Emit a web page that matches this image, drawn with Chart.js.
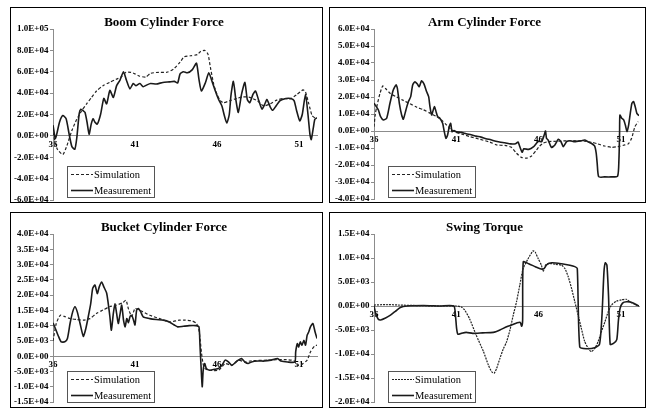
<!DOCTYPE html>
<html>
<head>
<meta charset="utf-8">
<script src="https://cdn.jsdelivr.net/npm/chart.js@4.4.0/dist/chart.umd.min.js"></script>
<style>
  body { margin: 0; background: #fff; width: 647px; height: 410px; position: relative; overflow: hidden; }
  .panel { position: absolute; border: 1px solid #000; background: #fff; }
  .panel canvas { display: block; }
</style>
</head>
<body>
<div class="panel" style="left:10px;top:7px;width:311px;height:194px"><canvas id="boomChart"></canvas></div>
<div class="panel" style="left:329px;top:7px;width:315px;height:194px"><canvas id="armChart"></canvas></div>
<div class="panel" style="left:10px;top:212px;width:311px;height:194px"><canvas id="bucketChart"></canvas></div>
<div class="panel" style="left:329px;top:212px;width:315px;height:194px"><canvas id="swingChart"></canvas></div>
<script>
// values are in units of 1E4 (N or N.m), time in s
const UNIT = 1e4;
const xTicks = [36, 41, 46, 51];
const seriesNames = ["Simulation", "Measurement"];

// [min, max, step] of each y axis, same units
const boomAxis = [-6, 10, 2];
const armAxis = [-4, 6, 1];
const bucketAxis = [-1.5, 4, 0.5];
const swingAxis = [-2, 1.5, 0.5];

const boomSim = [
    [36.0, 0.3], [36.25, -1.2], [36.6, -1.75], [36.85, -0.9], [37.15, 0.5], [37.45, 1.55], [37.75, 2.35],
    [38.05, 3.0], [38.35, 3.6], [38.65, 4.2], [39.05, 4.7], [39.45, 5.0], [39.85, 5.3], [40.15, 5.5],
    [40.45, 5.95], [40.75, 5.95], [41.0, 5.8], [41.25, 5.6], [41.65, 5.5], [41.95, 5.85], [42.45, 5.95],
    [42.95, 5.95], [43.35, 6.25], [43.75, 6.9], [44.0, 7.4], [44.4, 7.5], [44.8, 7.6], [45.0, 7.9],
    [45.25, 8.0], [45.45, 7.65], [45.6, 6.4], [45.8, 4.85], [46.0, 3.9], [46.2, 3.3], [46.4, 3.1],
    [46.8, 3.3], [47.2, 3.5], [47.6, 3.65], [48.0, 3.6], [48.45, 3.3], [48.85, 2.8], [49.25, 3.0],
    [49.65, 3.35], [50.05, 3.5], [50.45, 3.45], [50.85, 3.85], [51.25, 4.3], [51.4, 4.1], [51.6, 3.0],
    [51.8, 1.9], [52.0, 1.65]
];
const boomMeas = [
    [36.0, 1.0], [36.15, -0.25], [36.4, 1.3], [36.6, 1.9], [36.8, 1.6], [36.98, 0.2], [37.15, -1.0],
    [37.33, -1.25], [37.45, -0.2], [37.6, 2.1], [37.7, 2.5], [37.85, 2.35], [37.95, 2.2], [38.08, 1.25],
    [38.2, 0.15], [38.33, 1.1], [38.45, 1.6], [38.55, 1.3], [38.7, 1.1], [38.9, 2.0], [39.1, 3.5],
    [39.27, 3.0], [39.47, 4.25], [39.68, 3.6], [39.88, 4.7], [40.08, 5.2], [40.3, 6.0], [40.48, 5.2],
    [40.69, 4.4], [40.89, 4.9], [41.05, 4.7], [41.3, 4.9], [41.5, 4.6], [41.7, 4.75], [41.95, 4.9],
    [42.3, 4.85], [42.7, 5.0], [43.1, 5.05], [43.4, 5.1], [43.6, 4.95], [43.75, 5.8], [43.95, 6.0],
    [44.2, 5.9], [44.5, 6.2], [44.75, 6.8], [44.9, 5.3], [45.05, 4.2], [45.3, 5.0], [45.5, 5.9],
    [45.7, 5.1], [45.9, 4.2], [46.1, 3.4], [46.3, 2.8], [46.45, 1.9], [46.6, 1.2], [46.75, 2.0],
    [46.85, 3.75], [47.0, 5.1], [47.15, 3.4], [47.3, 2.2], [47.5, 3.9], [47.7, 5.0], [47.85, 3.4],
    [48.0, 3.1], [48.2, 3.9], [48.35, 4.2], [48.55, 3.3], [48.75, 2.5], [48.95, 3.1], [49.05, 3.4],
    [49.25, 2.7], [49.4, 2.4], [49.6, 2.8], [49.85, 3.3], [50.2, 3.5], [50.5, 3.5], [50.7, 3.3],
    [50.85, 2.4], [51.05, 1.4], [51.2, 2.0], [51.4, 3.9], [51.55, 2.0], [51.67, 0.15], [51.75, -0.35],
    [51.88, 0.8], [51.97, 1.55], [52.1, 1.7]
];

const armSim = [
    [36.0, 0.25], [36.08, 1.0], [36.16, 1.4], [36.36, 2.2], [36.53, 2.65], [36.7, 2.5], [37.0, 2.2],
    [37.38, 2.0], [37.78, 1.8], [38.19, 1.6], [38.6, 1.4], [39.0, 1.25], [39.4, 1.05], [39.8, 0.85],
    [40.1, 0.65], [40.41, 0.35], [40.62, 0.15], [40.92, -0.05], [41.33, -0.18], [41.83, -0.33],
    [42.44, -0.49], [43.04, -0.65], [43.45, -0.82], [43.95, -0.85], [44.35, -0.96], [44.66, -1.31],
    [44.96, -1.55], [45.27, -1.6], [45.57, -1.47], [45.87, -1.12], [46.07, -0.88], [46.27, -0.72],
    [46.58, -0.63], [47.19, -0.6], [47.99, -0.57], [48.8, -0.6], [49.2, -0.66], [49.6, -0.76],
    [50.0, -0.88], [50.43, -0.96], [50.83, -0.92], [51.24, -0.82], [51.45, -0.76], [51.65, -0.43],
    [51.85, 0.25], [52.05, 0.55]
];
const armMeas = [
    [36.0, 1.63], [36.26, 1.25], [36.4, 0.84], [36.57, 0.65], [36.77, 0.75], [36.97, 1.63], [37.17, 2.41],
    [37.34, 2.71], [37.42, 2.51], [37.54, 1.63], [37.68, 0.94], [37.78, 0.69], [37.94, 1.24], [38.09, 1.73],
    [38.23, 2.02], [38.35, 2.71], [38.49, 2.9], [38.63, 2.76], [38.75, 2.61], [38.89, 2.96], [39.04, 2.76],
    [39.2, 2.31], [39.32, 2.02], [39.4, 1.43], [39.5, 0.94], [39.6, 1.24], [39.68, 1.43], [39.77, 1.14],
    [39.87, 0.84], [40.0, 0.75], [40.17, 0.45], [40.25, 0.06], [40.37, -0.43], [40.47, -0.24], [40.57, 0.25],
    [40.66, 0.45], [40.74, -0.04], [40.86, 0.02], [41.0, -0.05], [41.3, -0.08], [41.6, -0.16], [41.9, -0.22],
    [42.2, -0.3], [42.5, -0.36], [42.8, -0.45], [43.1, -0.52], [43.4, -0.6], [43.7, -0.66], [43.95, -0.69],
    [44.3, -0.76], [44.6, -0.75], [44.75, -0.65], [44.85, -0.9], [45.0, -1.25], [45.1, -1.05], [45.4, -1.08],
    [45.7, -0.92], [45.87, -0.72], [46.0, -0.6], [46.18, -0.63], [46.34, -0.24], [46.42, 0.0], [46.48, -0.43],
    [46.58, -0.53], [46.78, -0.96], [46.99, -0.82], [47.2, -0.49], [47.36, -0.63], [47.5, -0.92], [47.7, -0.63],
    [47.9, -0.57], [48.2, -0.63], [48.6, -0.57], [48.8, -0.53], [49.0, -0.63], [49.2, -0.72], [49.4, -0.88],
    [49.5, -1.3], [49.56, -1.9], [49.65, -2.69], [50.0, -2.7], [50.4, -2.7], [50.8, -2.65], [50.88, -1.7],
    [50.92, -0.14], [50.94, 0.94], [51.05, 0.75], [51.17, 0.65], [51.27, 0.35], [51.37, -0.04], [51.47, 0.35],
    [51.57, 1.04], [51.67, 1.63], [51.77, 1.73], [51.87, 1.43], [51.97, 1.04], [52.1, 0.9]
];

const bucketSim = [
    [36.0, 0.5], [36.2, 1.07], [36.45, 1.34], [36.75, 1.29], [37.05, 1.23], [37.45, 1.2], [37.85, 1.18],
    [38.25, 1.23], [38.65, 1.4], [39.05, 1.51], [39.45, 1.62], [39.85, 1.67], [40.25, 1.75], [40.45, 1.83],
    [40.6, 1.55], [40.8, 1.3], [41.0, 1.56], [41.3, 1.5], [41.9, 1.34], [42.5, 1.23], [43.1, 1.12],
    [43.7, 1.18], [44.05, 1.18], [44.5, 1.15], [44.75, 1.07], [44.9, 0.85], [44.98, 0.5], [45.06, 0.09],
    [45.15, -0.24], [45.25, -0.4], [45.5, -0.46], [46.1, -0.46], [46.5, -0.24], [46.9, -0.3], [47.3, -0.13],
    [47.7, -0.19], [48.1, -0.15], [49.1, -0.13], [50.1, -0.11], [50.7, -0.15], [50.9, -0.3], [51.2, -0.26],
    [51.5, -0.13], [51.7, 0.14], [51.95, 0.33], [52.1, 0.36]
];
const bucketMeas = [
    [36.0, 1.09], [36.15, 0.9], [36.35, 0.63], [36.5, 0.47], [36.72, 0.47], [36.88, 0.58], [37.04, 1.07],
    [37.2, 1.45], [37.34, 1.62], [37.48, 1.45], [37.65, 1.07], [37.85, 0.65], [38.0, 0.9], [38.15, 1.29],
    [38.3, 1.72], [38.42, 2.22], [38.56, 2.33], [38.7, 2.05], [38.82, 2.27], [38.97, 2.43], [39.1, 2.27],
    [39.27, 2.07], [39.37, 1.72], [39.47, 1.29], [39.56, 0.85], [39.68, 1.4], [39.78, 1.72], [39.88, 1.4],
    [39.98, 1.07], [40.08, 1.35], [40.19, 1.67], [40.3, 1.18], [40.4, 0.96], [40.5, 1.23], [40.6, 1.1],
    [40.7, 1.3], [40.8, 1.34], [40.9, 1.2], [41.0, 1.02], [41.1, 1.51], [41.2, 1.56], [41.35, 1.45],
    [41.5, 1.29], [41.9, 1.23], [42.3, 1.2], [42.73, 1.18], [43.1, 1.12], [43.4, 1.02], [43.6, 0.96],
    [43.95, 0.98], [44.3, 1.0], [44.7, 1.0], [44.9, 0.96], [44.96, 0.41], [45.02, -0.24], [45.1, -1.0],
    [45.16, -0.46], [45.25, -0.24], [45.35, -0.4], [45.55, -0.46], [45.85, -0.43], [46.1, -0.4], [46.3, -0.3],
    [46.5, -0.13], [46.7, -0.19], [46.9, -0.3], [47.1, -0.22], [47.3, -0.13], [47.5, -0.08], [47.7, -0.19],
    [47.9, -0.24], [48.1, -0.19], [48.5, -0.16], [48.9, -0.16], [49.3, -0.13], [49.7, -0.08], [49.9, -0.16],
    [50.3, -0.19], [50.75, -0.19], [50.8, 0.14], [50.9, 0.41], [50.98, 0.3], [51.08, 0.47], [51.18, 0.36],
    [51.3, 0.52], [51.4, 0.36], [51.5, 0.69], [51.6, 0.8], [51.7, 0.96], [51.85, 1.07], [51.98, 0.8], [52.1, 0.58]
];

const swingSim = [
    [36.0, 0.02], [36.8, 0.03], [37.5, 0.02], [38.5, 0.01], [40.0, 0.0], [41.0, 0.0], [41.3, -0.02],
    [41.5, -0.08], [41.8, -0.26], [42.2, -0.6], [42.65, -0.95], [42.95, -1.23], [43.15, -1.37], [43.3, -1.4],
    [43.45, -1.3], [43.65, -1.09], [43.85, -0.9], [44.05, -0.75], [44.26, -0.5], [44.46, -0.19], [44.66, 0.09],
    [44.86, 0.44], [45.06, 0.78], [45.37, 0.99], [45.67, 1.15], [45.8, 1.12], [45.97, 0.99], [46.17, 0.85],
    [46.28, 0.72], [46.42, 0.85], [46.6, 0.89], [46.99, 0.87], [47.39, 0.85], [47.6, 0.78], [47.8, 0.61],
    [48.0, 0.37], [48.2, 0.09], [48.4, -0.19], [48.6, -0.47], [48.8, -0.74], [49.01, -0.88], [49.2, -0.95],
    [49.42, -0.88], [49.62, -0.74], [49.82, -0.53], [50.03, -0.33], [50.23, -0.12], [50.43, 0.02],
    [50.73, 0.1], [51.04, 0.13], [51.34, 0.14], [51.5, 0.1], [51.7, 0.06], [51.9, 0.02], [52.1, 0.0]
];
const swingMeas = [
    [36.0, 0.0], [36.1, -0.15], [36.25, -0.27], [36.4, -0.29], [36.7, -0.25], [37.0, -0.19], [37.3, -0.11],
    [37.6, -0.03], [38.0, 0.0], [39.0, 0.01], [40.0, 0.0], [40.85, 0.0], [40.95, -0.2], [41.02, -0.47],
    [41.1, -0.59], [41.3, -0.57], [41.6, -0.55], [42.0, -0.57], [42.6, -0.56], [43.25, -0.55], [43.65, -0.5],
    [44.06, -0.43], [44.4, -0.39], [44.7, -0.35], [44.88, -0.34], [44.97, -0.42], [45.03, -0.3], [45.07, 0.92],
    [45.4, 0.88], [45.8, 0.82], [46.15, 0.77], [46.33, 0.78], [46.5, 0.86], [46.8, 0.9], [47.4, 0.88],
    [47.9, 0.85], [48.2, 0.82], [48.35, 0.78], [48.5, -0.85], [48.9, -0.89], [49.4, -0.87], [49.7, -0.8],
    [49.85, -0.2], [49.97, 0.7], [50.05, 0.9], [50.15, 0.85], [50.25, 0.2], [50.35, -0.8], [50.55, -0.78],
    [50.75, -0.7], [50.85, -0.3], [50.95, -0.05], [51.1, 0.06], [51.35, 0.09], [51.7, 0.07], [52.1, 0.0]
];

Chart.defaults.font.family = "'Liberation Serif', 'Times New Roman', serif";
Chart.defaults.color = "#000";

function sciLabel(v) {
    const val = v * UNIT;
    if (Math.abs(val) < 1e-6) return "0.0E+00";
    const e = Math.floor(Math.log10(Math.abs(val)) + 1e-9);
    const m = val / Math.pow(10, e);
    return m.toFixed(1) + "E+" + String(e).padStart(2, "0");
}

// legend drawn as a framed box inside the plot, like the original figure
const boxLegend = {
    id: "boxLegend",
    afterDraw(chart) {
        const ctx = chart.ctx;
        const a = chart.chartArea;
        const x = a.left + 14, y = 158, w = 87, h = 31;
        ctx.save();
        ctx.fillStyle = "#fff";
        ctx.fillRect(x, y, w, h);
        ctx.strokeStyle = "#555";
        ctx.lineWidth = 1;
        ctx.strokeRect(x + 0.5, y + 0.5, w, h);
        ctx.font = "10.5px 'Liberation Serif', serif";
        ctx.textBaseline = "middle";
        ctx.fillStyle = "#000";
        chart.data.datasets.forEach((ds, i) => {
            const ry = y + 8.5 + i * 16;
            ctx.strokeStyle = ds.borderColor;
            ctx.lineWidth = ds.borderWidth;
            ctx.setLineDash(ds.borderDash || []);
            ctx.beginPath();
            ctx.moveTo(x + 4, ry);
            ctx.lineTo(x + 26, ry);
            ctx.stroke();
            ctx.setLineDash([]);
            ctx.fillText(ds.label, x + 27, ry + 0.5);
        });
        ctx.restore();
    }
};

function makeChart(id, title, axis, sim, meas, yWidth, padRight, padBottom, simDash) {
    const ctx = document.getElementById(id).getContext("2d");
    return new Chart(ctx, {
        type: "line",
        data: {
            datasets: [
                {
                    label: seriesNames[0],
                    data: sim,
                    borderColor: "#222",
                    borderWidth: 1.2,
                    borderDash: simDash,
                    pointRadius: 0,
                    tension: 0.2,
                    fill: false,
                },
                {
                    label: seriesNames[1],
                    data: meas,
                    borderColor: "#1a1a1a",
                    borderWidth: 1.6,
                    pointRadius: 0,
                    tension: 0.2,
                    fill: false,
                },
            ],
        },
        options: {
            responsive: true,
            maintainAspectRatio: false,
            animation: false,
            layout: { padding: { left: 0, right: padRight, top: 0, bottom: padBottom } },
            plugins: {
                legend: { display: false },
                tooltip: { enabled: false },
                title: {
                    display: true,
                    text: title,
                    font: { size: 13, weight: "bold" },
                    color: "#000",
                    padding: { top: 6.5, bottom: -1.1 },
                },
            },
            scales: {
                x: {
                    type: "linear",
                    min: xTicks[0],
                    max: 52.1,
                    position: { y: 0 },
                    grid: { display: false, drawTicks: false },
                    border: { display: true, color: "#8c8c8c", width: 1 },
                    ticks: { font: { size: 9, weight: "bold" }, padding: 3, autoSkip: false, maxRotation: 0 },
                    afterBuildTicks: (scale) => {
                        scale.ticks = xTicks.map((v) => ({ value: v }));
                    },
                    afterFit: (scale) => {
                        scale.paddingLeft = 0;
                        scale.paddingRight = 0;
                    },
                },
                y: {
                    min: axis[0],
                    max: axis[1],
                    grid: { drawOnChartArea: false, drawTicks: true, tickLength: 3, color: "#8c8c8c" },
                    border: { display: true, color: "#8c8c8c", width: 1 },
                    ticks: {
                        stepSize: axis[2],
                        font: { size: 9, weight: "bold" },
                        padding: 1.5,
                        callback: (v) => sciLabel(v),
                    },
                    afterFit: (scale) => {
                        scale.width = yWidth;
                        scale.paddingTop = 0;
                        scale.paddingBottom = 0;
                    },
                },
            },
        },
        plugins: [boxLegend],
    });
}

makeChart("boomChart", "Boom Cylinder Force", boomAxis, boomSim, boomMeas, 42, 5, 2, [3, 2]);
makeChart("armChart", "Arm Cylinder Force", armAxis, armSim, armMeas, 44, 6, 3, [3, 2]);
makeChart("bucketChart", "Bucket Cylinder Force", bucketAxis, bucketSim, bucketMeas, 42, 5, 5, [3, 2]);
makeChart("swingChart", "Swing Torque", swingAxis, swingSim, swingMeas, 44, 6, 5, [2, 1]);
</script>
</body>
</html>
